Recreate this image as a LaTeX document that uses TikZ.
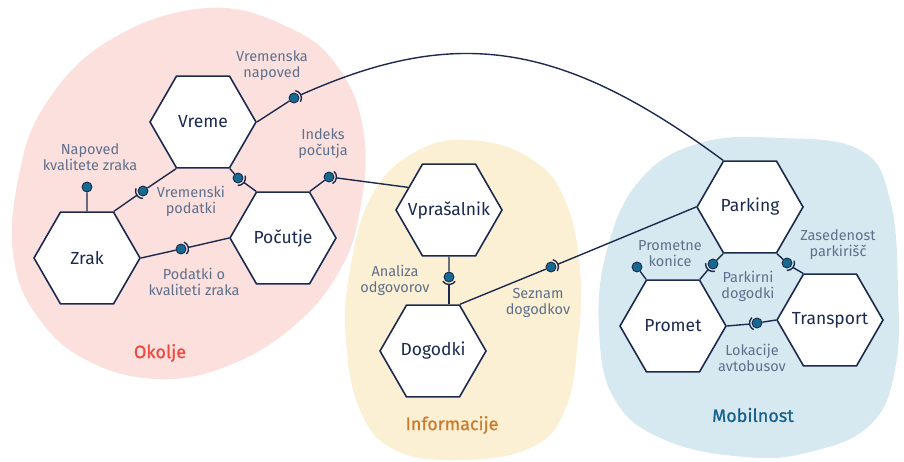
\documentclass[tikz,border=0pt]{standalone}
\usepackage{fontspec}
\setmainfont{Fira Sans}
\newfontfamily\grpfont[FakeBold=0.8]{Fira Sans}
\usetikzlibrary{shapes.geometric}
\definecolor{navy}{HTML}{1B2A4E}
\definecolor{balltone}{HTML}{16698F}
\definecolor{labelgrey}{HTML}{5E708C}
\definecolor{okoljefill}{HTML}{FCE0DE}
\definecolor{infofill}{HTML}{FCF0D4}
\definecolor{mobfill}{HTML}{D6E9F0}
\definecolor{okoljetext}{HTML}{F0483E}
\definecolor{infotext}{HTML}{CC7A2E}
\definecolor{mobtext}{HTML}{17628C}

\begin{document}
\begin{tikzpicture}[x=1pt,y=-1pt,
	hexa/.style={regular polygon, regular polygon sides=6, minimum size=106pt, inner sep=-12pt, draw=navy, line width=1.6pt, fill=white, text=navy, font=\fontsize{17.5}{21}\selectfont},
	ball/.style={circle, fill=balltone, draw=navy, line width=0.9pt, minimum size=10pt, inner sep=0pt},
	wire/.style={draw=navy, line width=1.4pt},
	lbl/.style={text=labelgrey, align=center, font=\fontsize{14.5}{16}\selectfont},
	grp/.style={font=\fontsize{18}{21}\grpfont}]
	\useasboundingbox (0,0) rectangle (904,461);
	%\draw [help lines, step=50] (0,0) grid (904,461);
	% areas
	\fill [okoljefill] plot [smooth cycle, tension=0.7] coordinates {(207,8) (290,28) (340,70) (364,135) (360,210) (340,270) (295,325) (230,365) (160,379) (90,362) (40,320) (14,260) (18,180) (45,105) (110,40)};
	\fill [infofill] plot [smooth cycle, tension=0.7] coordinates {(470,140) (530,158) (565,200) (580,270) (578,340) (565,410) (530,448) (460,460) (395,450) (360,410) (346,340) (350,270) (372,195) (415,152)};
	\fill [mobfill] plot [smooth cycle, tension=0.7] coordinates {(780,138) (860,150) (890,200) (898,290) (895,370) (870,425) (810,452) (745,457) (665,440) (615,400) (599,330) (607,250) (640,180) (700,143)};
	\node [grp, text=okoljetext] (okolje) at (160,353) {Okolje};
	\node [grp, text=infotext] (informacije) at (452,425) {Informacije};
	\node [grp, text=mobtext] (mobilnost) at (753,415) {Mobilnost};
	% components
	\node [hexa] (vreme) at (203,122) {Vreme};
	\node [hexa] (zrak) at (87,258) {Zrak};
	\node [hexa] (pocutje) at (283,238) {Počutje};
	\node [hexa] (vpr) at (449,210) {Vprašalnik};
	\node [hexa] (dog) at (433,351) {Dogodki};
	\node [hexa] (park) at (750,207) {Parking};
	\node [hexa] (prom) at (673,326) {Promet};
	\node [hexa] (trans) at (830,320) {Transport};
	% interfaces
	\node [ball] (bvn) at (294,98) {};
	\draw [wire] (vreme.0) -- (bvn);
	\draw [wire] ([shift={(-30:7.5pt)}]bvn.center) arc [start angle=-30, end angle=80, radius=7.5pt];
	\draw [wire] ([shift={(25:7.5pt)}]bvn.center) .. controls (455,26) and (560,40) .. (park.120);
	\node [lbl] (lvn) at (272,66) {Vremenska\\napoved};

	\node [ball] (bvz) at (143,191) {};
	\draw [wire] (vreme.240) -- (bvz);
	\draw [wire] ([shift={(160:7.5pt)}]bvz.center) arc [start angle=160, end angle=270, radius=7.5pt];
	\draw [wire] ([shift={(215:7.5pt)}]bvz.center) -- (zrak.60);
	\node [ball] (bvp) at (238,178) {};
	\draw [wire] (vreme.300) -- (bvp);
	\draw [wire] ([shift={(-92:7.5pt)}]bvp.center) arc [start angle=-92, end angle=18, radius=7.5pt];
	\draw [wire] ([shift={(-37:7.5pt)}]bvp.center) -- (pocutje.120);
	\node [lbl] (lvp) at (191,201) {Vremenski\\podatki};

	\node [ball] (bnz) at (87,187) {};
	\draw [wire] (zrak.north) -- (bnz);
	\node [lbl] (lnz) at (90,157) {Napoved\\kvalitete zraka};

	\node [ball] (bkz) at (181,249) {};
	\draw [wire] (zrak.0) -- (bkz);
	\draw [wire] ([shift={(-43:7.5pt)}]bkz.center) arc [start angle=-43, end angle=67, radius=7.5pt];
	\draw [wire] ([shift={(12:7.5pt)}]bkz.center) -- (pocutje.180);
	\node [lbl] (lkz) at (194,282) {Podatki o\\kvaliteti zraka};

	\node [ball] (bip) at (329,177) {};
	\draw [wire] (pocutje.60) -- (bip);
	\draw [wire] ([shift={(-62:7.5pt)}]bip.center) arc [start angle=-62, end angle=48, radius=7.5pt];
	\draw [wire] ([shift={(-7:7.5pt)}]bip.center) -- (vpr.151);
	\node [lbl] (lip) at (323,144) {Indeks\\počutja};

	\node [ball] (bao) at (449,277) {};
	\draw [wire] (vpr.south) -- (bao);
	\draw [wire] ([shift={(-145:7.5pt)}]bao.center) arc [start angle=-145, end angle=-35, radius=7.5pt];
	\draw [wire] ([shift={(-90:7.5pt)}]bao.center) -- (bao |- dog.north);
	\node [lbl] (lao) at (395,280) {Analiza\\odgovorov};

	\node [ball] (bsd) at (551,267) {};
	\draw [wire] (dog.60) -- (bsd);
	\draw [wire] ([shift={(-33:7.5pt)}]bsd.center) arc [start angle=-33, end angle=77, radius=7.5pt];
	\draw [wire] ([shift={(22:7.5pt)}]bsd.center) -- (park.180);
	\node [lbl] (lsd) at (538,303) {Seznam\\dogodkov};

	\node [ball] (bpd) at (713,264) {};
	\draw [wire] (park.240) -- (bpd);
	\draw [wire] ([shift={(174:7.5pt)}]bpd.center) arc [start angle=174, end angle=284, radius=7.5pt];
	\draw [wire] ([shift={(229:7.5pt)}]bpd.center) -- (prom.60);
	\node [lbl] (lpd) at (748,286) {Parkirni\\dogodki};

	\node [ball] (bzp) at (787,263) {};
	\draw [wire] (park.300) -- (bzp);
	\draw [wire] ([shift={(-92:7.5pt)}]bzp.center) arc [start angle=-92, end angle=18, radius=7.5pt];
	\draw [wire] ([shift={(-37:7.5pt)}]bzp.center) -- (trans.120);
	\node [lbl] (lzp) at (838,245) {Zasedenost\\parkirišč};

	\node [ball] (bpk) at (637,267) {};
	\draw [wire] (prom.120) -- (bpk);
	\node [lbl] (lpk) at (670,254) {Prometne\\konice};

	\node [ball] (bla) at (757,323) {};
	\draw [wire] (trans.180) -- (bla);
	\draw [wire] ([shift={(133:7.5pt)}]bla.center) arc [start angle=133, end angle=243, radius=7.5pt];
	\draw [wire] ([shift={(188:7.5pt)}]bla.center) -- (prom.0);
	\node [lbl] (lla) at (752,358) {Lokacije\\avtobusov};
\end{tikzpicture}
\end{document}
